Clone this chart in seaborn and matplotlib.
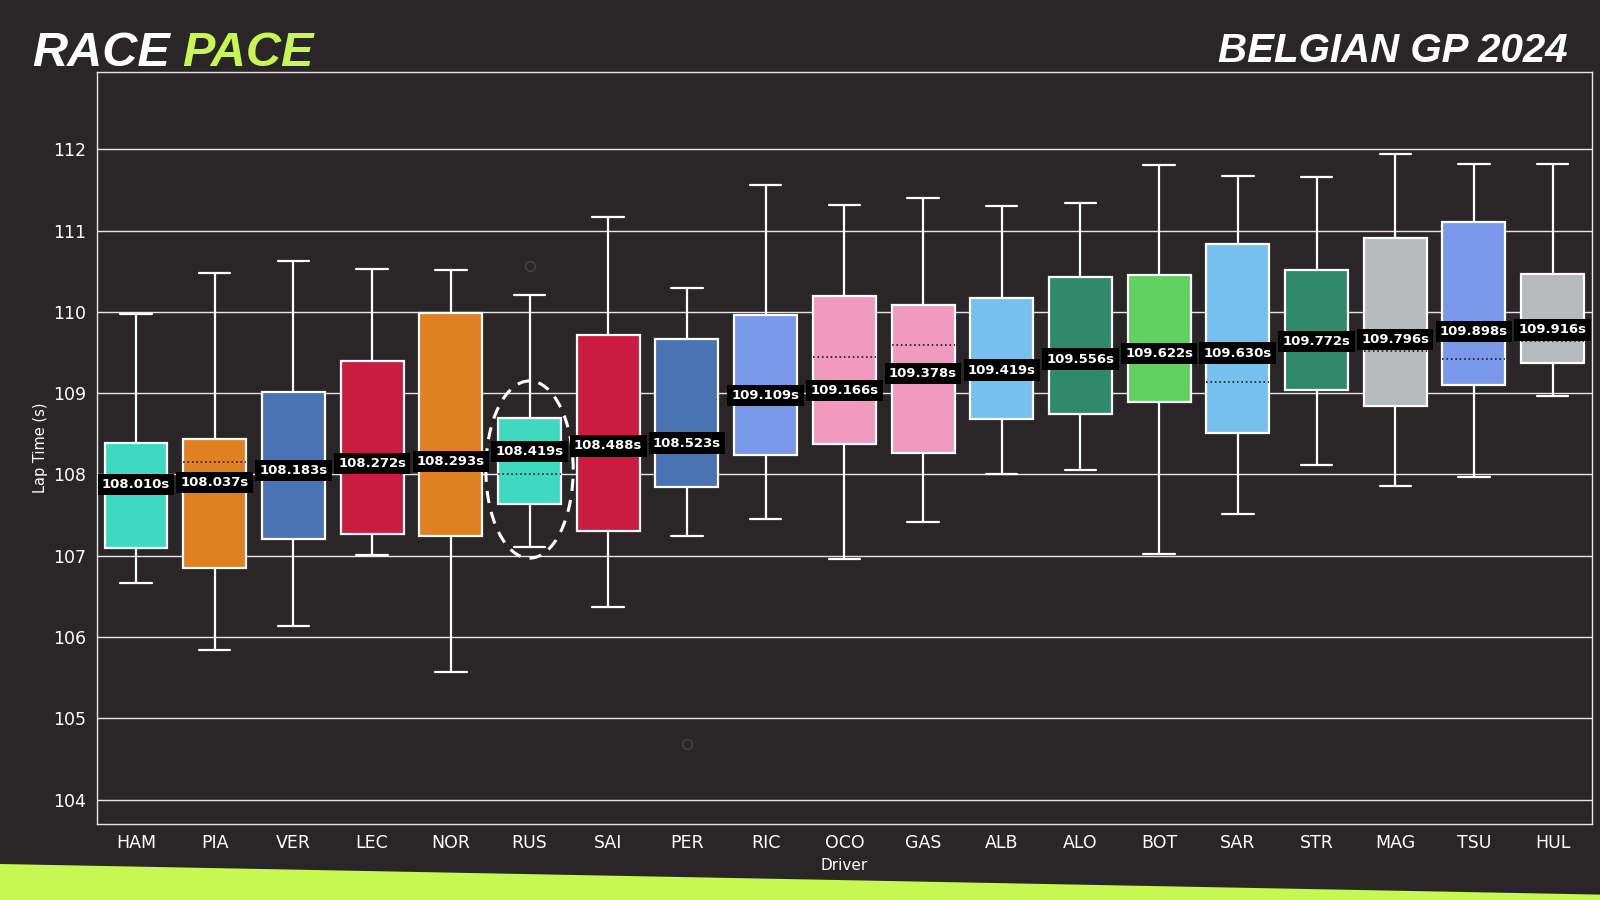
import numpy as np
import pandas as pd
import seaborn as sns
import matplotlib.pyplot as plt
from matplotlib.patches import Ellipse, Polygon

# %% data
drivers = ["HAM", "PIA", "VER", "LEC", "NOR", "RUS", "SAI", "PER", "RIC", "OCO",
           "GAS", "ALB", "ALO", "BOT", "SAR", "STR", "MAG", "TSU", "HUL"]
whisker_low = [106.66, 105.84, 106.13, 107.01, 105.57, 107.11, 106.37, 107.24, 107.45, 106.96,
               107.42, 108.01, 108.06, 107.02, 107.51, 108.11, 107.86, 107.97, 108.97]
q1 = [107.10, 106.85, 107.20, 107.27, 107.24, 107.64, 107.31, 107.85, 108.24, 108.38,
      108.26, 108.68, 108.74, 108.89, 108.51, 109.04, 108.84, 109.10, 109.37]
median = [107.87, 108.15, 108.05, 108.15, 108.17, 108.00, 108.35, 108.40, 108.98, 109.44,
          109.59, 109.30, 109.44, 109.50, 109.14, 109.65, 109.52, 109.42, 109.64]
q3 = [108.39, 108.43, 109.02, 109.39, 109.99, 108.70, 109.72, 109.66, 109.96, 110.19,
      110.09, 110.17, 110.43, 110.45, 110.83, 110.51, 110.91, 111.11, 110.47]
whisker_high = [109.97, 110.48, 110.62, 110.53, 110.51, 110.21, 111.17, 110.29, 111.56, 111.32,
                111.40, 111.30, 111.34, 111.81, 111.67, 111.66, 111.94, 111.82, 111.82]
mean_pace = [108.010, 108.037, 108.183, 108.272, 108.293, 108.419, 108.488, 108.523, 109.109, 109.166,
             109.378, 109.419, 109.556, 109.622, 109.630, 109.772, 109.796, 109.898, 109.916]
outlier_driver = ["RUS", "PER"]
outlier_time = [110.56, 104.69]
team_colors = ["#3fd9c2", "#e08020", "#4a73b3", "#c91c40", "#e08020", "#3fd9c2", "#c91c40",
               "#4a73b3", "#7a98ea", "#f09ac0", "#f09ac0", "#76c0ee", "#2f8a6b", "#60d060",
               "#76c0ee", "#2f8a6b", "#b7babd", "#7a98ea", "#b7babd"]
highlight = "RUS"

BG = "#2a2627"
LIME = "#c6f752"
LINE = "#e6e6e6"

# long table for seaborn (5 values per driver -> exact quartiles)
rows = []
for i, d in enumerate(drivers):
    for v in (whisker_low[i], q1[i], median[i], q3[i], whisker_high[i]):
        rows.append({"Driver": d, "LapTime": v})
df = pd.DataFrame(rows)
palette = dict(zip(drivers, team_colors))

# %% plot
sns.set_style("dark")
plt.rcParams.update({
    "font.family": "DejaVu Sans",
    "figure.facecolor": BG,
    "axes.facecolor": BG,
    "text.color": "white",
    "axes.labelcolor": "white",
    "xtick.color": "white",
    "ytick.color": "white",
})

fig = plt.figure(figsize=(16, 9), dpi=100)
ax = fig.add_axes([0.0604, 0.0844, 0.9346, 0.8356])

sns.boxplot(
    data=df, x="Driver", y="LapTime", hue="Driver", order=drivers, hue_order=drivers,
    palette=palette, saturation=1, legend=False, whis=(0, 100), showfliers=False,
    width=0.8, linecolor="white", linewidth=1.6,
    medianprops={"color": "#1e1b1c", "linestyle": ":", "linewidth": 1.2},
    ax=ax,
)

# outliers
for d, v in zip(outlier_driver, outlier_time):
    ax.plot([drivers.index(d)], [v], "o", mfc="none", mec="#484344", ms=7, mew=1, zorder=3)

# mean labels
for i, m in enumerate(mean_pace):
    ax.annotate(
        f"{m:.3f}s", (i, m), xytext=(0, -8), textcoords="offset points",
        ha="center", va="center", fontsize=9.5, fontweight="bold", color="white", zorder=10,
        bbox=dict(boxstyle="square,pad=0.32", fc="black", ec="none"),
    )

# highlight ring
ax.add_patch(Ellipse((drivers.index(highlight), 108.06), 1.11, 2.18, fill=False,
                     ec="white", lw=2.2, ls=(0, (4, 3)), zorder=6))

ax.set_xlim(-0.5, len(drivers) - 0.5)
ax.set_ylim(103.7, 112.95)
ax.set_yticks(range(104, 113))
ax.set_axisbelow(True)
ax.yaxis.grid(True, color=LINE, lw=1)
ax.xaxis.grid(False)
for s in ax.spines.values():
    s.set_color(LINE)
    s.set_linewidth(1)
ax.tick_params(axis="both", labelsize=12.5, length=4, color=LINE, width=1)
ax.set_xlabel("Driver", fontsize=11)
ax.set_ylabel("Lap Time (s)", fontsize=10.5)

# headings
renderer = fig.canvas.get_renderer()
t1 = fig.text(0.02, 0.927, "RACE", fontsize=35, fontweight="bold", fontstyle="italic",
              family="Liberation Sans", color="white", va="baseline")
bb = t1.get_window_extent(renderer)
fig.text((bb.x1 + 12) / fig.bbox.width, 0.927, "PACE", fontsize=35, fontweight="bold",
         fontstyle="italic", family="Liberation Sans", color=LIME, va="baseline")
fig.text(0.98, 0.931, "BELGIAN GP 2024", fontsize=29, fontweight="bold", fontstyle="italic",
         family="Liberation Sans", color="white", ha="right", va="baseline")

# lime strip at the bottom
fig.patches.append(Polygon([(0, 0.04), (1, 0.006), (1, 0), (0, 0)], closed=True,
                           transform=fig.transFigure, fc=LIME, ec="none", zorder=0))

fig.savefig("out.png", dpi=100, facecolor=BG)
